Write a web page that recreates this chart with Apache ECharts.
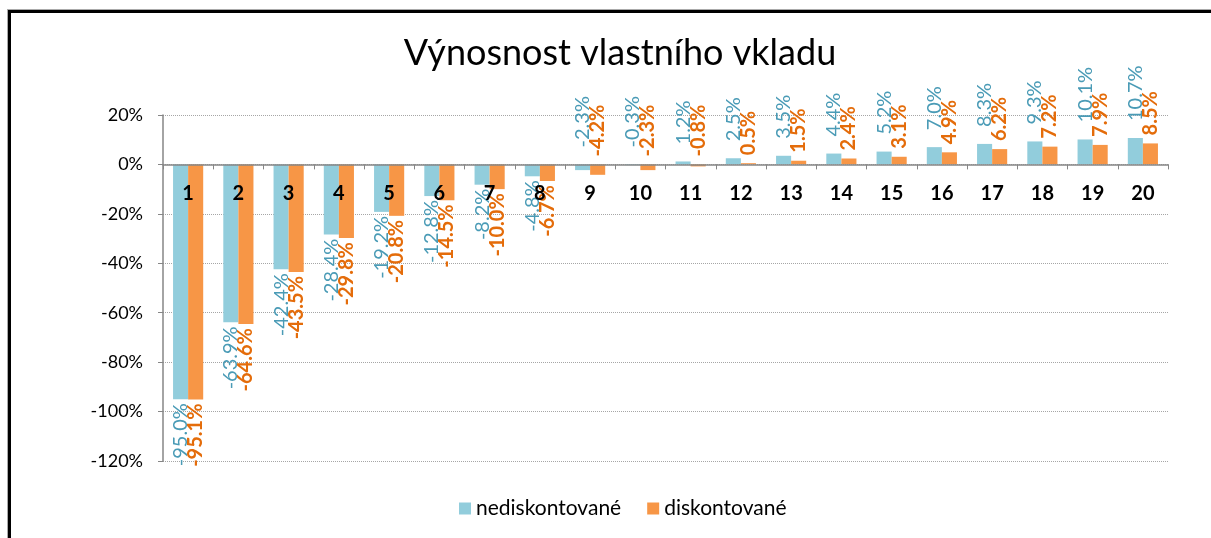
<!DOCTYPE html>
<html>
<head>
<meta charset="utf-8">
<script src="https://cdn.jsdelivr.net/npm/echarts@6/dist/echarts.min.js"></script>
<style>
  html, body { margin: 0; padding: 0; overflow: hidden; background: #fff; }
  #frame { position: absolute; left: 8px; top: 10px; width: 1400px; height: 700px; border-top: 3px solid #000; border-left: 3px solid #000; box-shadow: -1px -1px 0 #aaa; }
  #chart { position: absolute; left: 0; top: 0; width: 1211px; height: 538px; }
</style>
</head>
<body>
<div id="frame"></div>
<div id="chart"></div>
<script>
var categories = ['1', '2', '3', '4', '5', '6', '7', '8', '9', '10',
  '11', '12', '13', '14', '15', '16', '17', '18', '19', '20']
var nediskontovane = [-95.0, -63.9, -42.4, -28.4, -19.2, -12.8, -8.2, -4.8, -2.3, -0.3,
  1.2, 2.5, 3.5, 4.4, 5.2, 7.0, 8.3, 9.3, 10.1, 10.7]
var diskontovane = [-95.1, -64.6, -43.5, -29.8, -20.8, -14.5, -10.0, -6.7, -4.2, -2.3,
  -0.8, 0.5, 1.5, 2.4, 3.1, 4.9, 6.2, 7.2, 7.9, 8.5]

var font = 'Lato, "Noto Sans", sans-serif'

// label below the bar for the first eight years, above the axis afterwards
function withLabels (values, color, weight, upDist, downDist) {
  return values.map(function (v, i) {
    var below = i < 8
    return {
      value: v,
      label: {
        show: true,
        position: below ? 'bottom' : 'top',
        rotate: 90,
        align: below ? 'right' : 'left',
        verticalAlign: 'middle',
        distance: below ? downDist : upDist,
        color: color,
        fontWeight: weight,
        fontSize: 20,
        fontFamily: font,
        formatter: function (p) { return p.value.toFixed(1) + '%' }
      }
    }
  })
}

var myChart = echarts.init(document.getElementById('chart'))
myChart.setOption({
  animation: false,
  title: {
    text: 'Výnosnost vlastního vkladu',
    left: 615,
    textAlign: 'center',
    top: 30,
    textStyle: { fontFamily: font, fontWeight: 'normal', fontSize: 36, color: '#000' }
  },
  legend: {
    bottom: 14,
    left: 454,
    itemWidth: 12,
    itemHeight: 12,
    itemGap: 26,
    icon: 'rect',
    textStyle: { fontFamily: font, fontSize: 21, color: '#000' },
    data: ['nediskontované', 'diskontované']
  },
  grid: { left: 163, right: 43, top: 115, bottom: 77 },
  xAxis: {
    type: 'category',
    data: categories,
    z: 10,
    offset: -296.6,
    axisLine: { onZero: false, lineStyle: { color: '#868686', width: 1.5 } },
    axisTick: { show: true, length: 5, lineStyle: { color: '#868686' } },
    axisLabel: { fontFamily: font, fontWeight: 'bold', fontSize: 20, color: '#000', margin: 19 }
  },
  yAxis: {
    type: 'value',
    min: -120,
    max: 20,
    interval: 20,
    axisLine: { show: true, lineStyle: { color: '#868686', width: 1.5 } },
    axisTick: { show: true, length: 5, lineStyle: { color: '#868686' } },
    axisLabel: { fontFamily: font, fontSize: 18, color: '#000', margin: 20, formatter: '{value}%' },
    splitLine: { lineStyle: { color: '#a6a6a6', type: 'dotted' } }
  },
  series: [
    {
      name: 'nediskontované',
      type: 'bar',
      barGap: 0,
      barCategoryGap: '40%',
      itemStyle: { color: '#92CDDC' },
      data: withLabels(nediskontovane, '#4A9BB6', 'normal', 17, 4)
    },
    {
      name: 'diskontované',
      type: 'bar',
      itemStyle: { color: '#F79646' },
      data: withLabels(diskontovane, '#E46C0A', 'bold', 8, 4)
    }
  ]
})
</script>
</body>
</html>
